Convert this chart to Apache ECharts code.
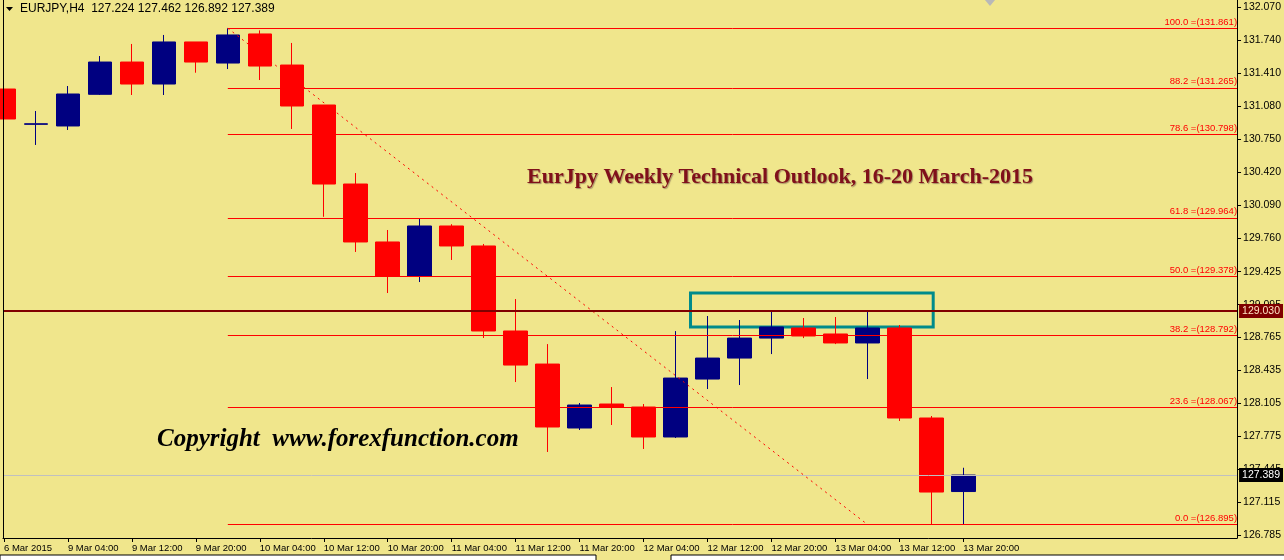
<!DOCTYPE html>
<html><head><meta charset="utf-8">
<script src="https://cdn.jsdelivr.net/npm/echarts@6/dist/echarts.min.js"></script>
<style>html,body{margin:0;padding:0;background:#F0E68C}#c{width:1284px;height:560px}</style>
</head><body><div id="c"></div>
<script>
// ---- data ----
const times = ['6 Mar 20:00','9 Mar 00:00','9 Mar 04:00','9 Mar 08:00','9 Mar 12:00','9 Mar 16:00','9 Mar 20:00',
  '10 Mar 00:00','10 Mar 04:00','10 Mar 08:00','10 Mar 12:00','10 Mar 16:00','10 Mar 20:00',
  '11 Mar 00:00','11 Mar 04:00','11 Mar 08:00','11 Mar 12:00','11 Mar 16:00','11 Mar 20:00',
  '12 Mar 00:00','12 Mar 04:00','12 Mar 08:00','12 Mar 12:00','12 Mar 16:00','12 Mar 20:00',
  '13 Mar 00:00','13 Mar 04:00','13 Mar 08:00','13 Mar 12:00','13 Mar 16:00','13 Mar 20:00'];
const opens  = [131.253,130.900,130.883,131.200,131.523,131.303,131.724,131.513,131.804,131.493,131.093,130.302,129.722,129.381,129.882,129.682,128.831,128.500,127.860,128.100,128.070,127.770,128.350,128.560,128.760,128.861,128.801,128.711,128.861,127.960,127.224];
const highs  = [131.283,131.033,131.283,131.583,131.704,131.794,131.724,131.861,131.840,131.714,131.093,130.412,129.842,129.952,129.900,129.702,129.151,128.700,128.110,128.270,128.100,128.830,128.981,128.941,129.031,128.961,128.971,129.041,128.891,127.980,127.462];
const lows   = [130.873,130.693,130.843,131.193,131.193,131.193,131.416,131.453,131.343,130.853,129.974,129.622,129.211,129.321,129.542,128.761,128.320,127.620,127.840,127.890,127.650,127.760,128.250,128.290,128.600,128.760,128.700,128.350,127.930,126.895,126.892];
const closes = [130.953,130.905,131.203,131.523,131.303,131.724,131.523,131.794,131.483,131.083,130.302,129.722,129.381,129.882,129.682,128.831,128.490,127.870,128.090,128.070,127.770,128.360,128.560,128.760,128.871,128.781,128.711,128.861,127.960,127.219,127.389];
const axisLabels = ['6 Mar 2015','9 Mar 04:00','9 Mar 12:00','9 Mar 20:00','10 Mar 04:00','10 Mar 12:00','10 Mar 20:00',
  '11 Mar 04:00','11 Mar 12:00','11 Mar 20:00','12 Mar 04:00','12 Mar 12:00','12 Mar 20:00','13 Mar 04:00','13 Mar 12:00','13 Mar 20:00'];
const priceTicks = [132.070,131.740,131.410,131.080,130.750,130.420,130.090,129.760,129.425,129.095,128.765,128.435,128.105,127.775,127.445,127.115,126.785];
const fibLevels = ['0.0','23.6','38.2','50.0','61.8','78.6','88.2','100.0'];
const fibPrices = [126.895,128.067,128.792,129.378,129.964,130.798,131.265,131.861];
const fibStartIdx = 7, fibEndIdx = 27;
const hLine = 129.030;
const bidPrice = 127.389;
const boxX = [21.47, 29.06], boxY = [129.211, 128.871];

// ---- chart ----
const X_MIN = -0.03125, X_MAX = 38.5625;
const candles = times.map((t,i)=>[i, opens[i], closes[i], lows[i], highs[i]]);
const labelTickIdx = axisLabels.map((s,k)=>k*2);
const font = 'Liberation Sans';

const chart = echarts.init(document.getElementById('c'));
chart.setOption({
  animation:false,
  backgroundColor:'#F0E68C',
  grid:{left:3,right:46,top:0,bottom:22},
  xAxis:{type:'value',min:X_MIN,max:X_MAX,
    splitLine:{show:false},
    axisLine:{show:true,onZero:false,lineStyle:{color:'#000',width:1}},
    axisTick:{show:true,length:4,customValues:labelTickIdx,lineStyle:{color:'#000'}},
    axisLabel:{customValues:labelTickIdx,align:'left',margin:5,padding:[0,0,0,0],
      fontFamily:font,fontSize:9.5,color:'#000',
      formatter:v=>axisLabels[Math.round(v/2)]}
  },
  yAxis:{type:'value',position:'right',min:126.759,max:132.144,scale:true,
    splitLine:{show:false},
    axisLine:{show:true,onZero:false,lineStyle:{color:'#000',width:1}},
    axisTick:{show:true,length:4,customValues:priceTicks,lineStyle:{color:'#000'}},
    axisLabel:{customValues:priceTicks,margin:6,fontFamily:font,fontSize:10.5,color:'#000',
      formatter:v=>v.toFixed(3)}
  },
  series:[
    {type:'line',data:[],z:1,silent:true,
      markLine:{silent:true,symbol:'none',animation:false,
        data:[{yAxis:bidPrice,lineStyle:{color:'#C0C0C0',width:1,type:'solid'},
          label:{show:true,position:'end',distance:2,formatter:bidPrice.toFixed(3),backgroundColor:'#000',color:'#fff',
            fontFamily:font,fontSize:10.5,padding:[2,3,1,3]}}]}},
    {type:'candlestick',z:2,data:candles,encode:{x:0,y:[1,2,3,4]},barWidth:24,clip:true,silent:true,
      itemStyle:{color:'#000080',color0:'#FF0000',borderColor:'#000080',borderColor0:'#FF0000',borderWidth:1}},
    {type:'line',data:[],z:3,silent:true,
      markLine:{silent:true,symbol:'none',animation:false,
        label:{show:true,position:'insideEndTop',distance:[0,1],color:'#FF0000',fontFamily:font,fontSize:9.5,
          formatter:p=>p.name},
        lineStyle:{color:'#FF0000',width:1,type:'solid'},
        data:fibPrices.map((p,k)=>[{name:fibLevels[k]+' =('+p.toFixed(3)+')',coord:[fibStartIdx,p]},{coord:[X_MAX,p]}])}},
    {type:'line',data:[],z:3,silent:true,
      markLine:{silent:true,symbol:'none',animation:false,label:{show:false},
        lineStyle:{color:'#FF0000',width:1,type:[2,4]},
        data:[[{coord:[fibStartIdx,fibPrices[7]]},{coord:[fibEndIdx,fibPrices[0]]}]]}},
    {type:'line',data:[],z:4,silent:true,
      markLine:{silent:true,symbol:'none',animation:false,
        data:[{yAxis:hLine,lineStyle:{color:'#800000',width:2,type:'solid'},
          label:{show:true,position:'end',distance:2,formatter:hLine.toFixed(3),backgroundColor:'#800000',color:'#FFE4C4',
            fontFamily:font,fontSize:10.5,padding:[2,3,1,3]}}]},
      markArea:{silent:true,itemStyle:{color:'rgba(0,0,0,0)',borderColor:'#008B8B',borderWidth:3},
        data:[[{coord:[boxX[0],boxY[0]]},{coord:[boxX[1],boxY[1]]}]]}}
  ],
  graphic:[
    {type:'line',shape:{x1:3.5,y1:0,x2:3.5,y2:538},style:{stroke:'#000',lineWidth:1},z:10},
    {type:'polygon',shape:{points:[[6,7],[13,7],[9.5,11]]},style:{fill:'#000'},z:10},
    {type:'text',left:20,top:3,style:{text:'EURJPY,H4  127.224 127.462 126.892 127.389',fontFamily:font,fontSize:12,fill:'#000'},z:10},
    {type:'polygon',shape:{points:[[985,0],[995,0],[990,6]]},style:{fill:'#B8B8B8'},z:10},
    {type:'text',x:780,y:177,style:{text:'EurJpy Weekly Technical Outlook, 16-20 March-2015',
      fontFamily:'Liberation Serif',fontWeight:'bold',fontSize:22,fill:'#80101A',align:'center',verticalAlign:'middle',
      textShadowColor:'rgba(90,60,60,0.5)',textShadowBlur:1,textShadowOffsetX:1,textShadowOffsetY:1},z:10},
    {type:'text',x:157,y:440,style:{text:'Copyright  www.forexfunction.com',
      fontFamily:'Liberation Serif',fontStyle:'italic',fontWeight:'bold',fontSize:25,fill:'#000',align:'left',verticalAlign:'middle'},z:10},
    {type:'rect',shape:{x:0,y:555,width:596,height:7},style:{fill:'#fff',stroke:'#000',lineWidth:1},z:10},
    {type:'rect',shape:{x:671,y:555,width:620,height:7},style:{fill:'#fff',stroke:'#000',lineWidth:1},z:10}
  ]
});
</script>
</body></html>
